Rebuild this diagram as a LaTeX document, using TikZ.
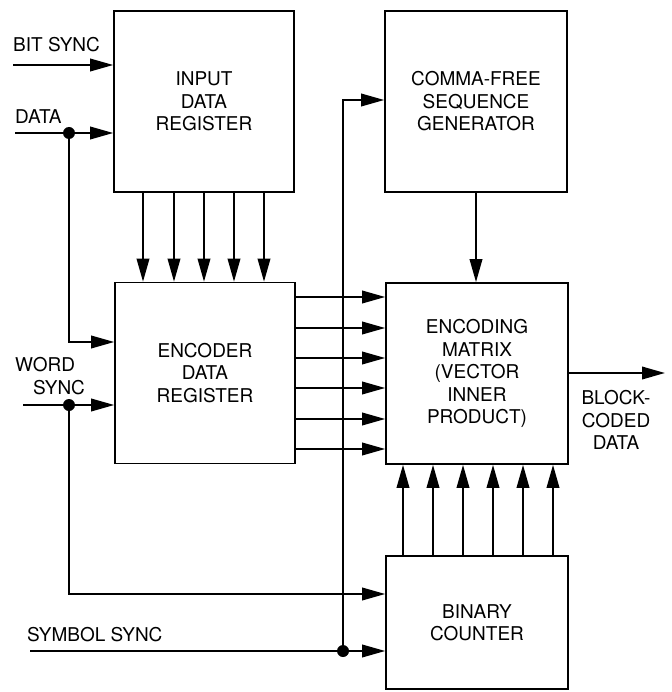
\documentclass[tikz,border=0pt]{standalone}
\usepackage{fontspec}
\setmainfont{TeX Gyre Heros}
\usetikzlibrary{arrows.meta,calc}
\tikzset{
  block/.style={
    draw=black,
    line width=1.6pt,
    minimum width=180pt,
    minimum height=181pt,
    align=center,
    inner sep=0pt,
    font=\fontsize{19}{22.5}\selectfont
  },
  wire/.style={line width=2pt},
  sig/.style={wire, -{Triangle[length=23pt,width=12.5pt]}},
  dot/.style={circle, fill=black, inner sep=0pt, minimum size=12pt},
  lbl/.style={inner sep=0pt, align=left, font=\fontsize{19}{22.5}\selectfont}
}

\begin{document}
\begin{tikzpicture}[x=1pt, y=-1pt]
  \useasboundingbox (0,0) rectangle (671,692);

  % -------------------------------------------------------------------
  % blocks
  % -------------------------------------------------------------------
  \node[block] (inreg) at (204,101.5) {INPUT\\DATA\\REGISTER};
  \node[block, minimum width=182pt] (cfgen) at (476,101.5) {COMMA-FREE\\SEQUENCE\\GENERATOR};
  \node[block] (encreg) at (205,373) {ENCODER\\DATA\\REGISTER};
  \node[block, minimum width=182pt] (encmat) at (477,373.5) {ENCODING\\MATRIX\\(VECTOR\\INNER\\PRODUCT)};
  \node[block, minimum width=182pt, minimum height=133pt] (bincnt) at (477,622.5) {BINARY\\COUNTER};

  % -------------------------------------------------------------------
  % inputs
  % -------------------------------------------------------------------
  \node[lbl, anchor=west] (bitlbl) at (13,45) {BIT SYNC};
  \coordinate (bitin) at (13,65);
  \draw[sig] (bitin) -- (bitin -| inreg.west);

  \node[lbl, anchor=west] (datalbl) at (15,117) {DATA};
  \coordinate (datain) at (15,133);
  \node[dot] (datadot) at (69,133) {};
  \draw[sig] (datain) -- (datain -| inreg.west);
  \draw[sig] (datadot) |- ([yshift=31pt]encreg.west);

  \node[lbl, anchor=west] (wordlbl) at (15,376) {WORD\\\hspace*{18pt}SYNC};
  \coordinate (wordin) at (23,405);
  \node[dot] (worddot) at (69,405) {};
  \draw[sig] (wordin) -- (wordin -| encreg.west);
  \draw[sig] (worddot) |- ([yshift=28.5pt]bincnt.west);

  \node[lbl, anchor=west] (symlbl) at (27,635) {SYMBOL SYNC};
  \coordinate (symin) at (30,651);
  \node[dot] (symdot) at (343,651) {};
  \draw[sig] (symin) -- (symin -| bincnt.west);
  \draw[sig] (symdot) |- ([yshift=1.5pt]cfgen.west);

  % -------------------------------------------------------------------
  % buses
  % -------------------------------------------------------------------
  \foreach \x in {143,174,204,234,264}
    \draw[sig] (\x,0 |- inreg.south) -- (\x,0 |- encreg.north);
  \foreach \y in {297,328,358,388,419,449}
    \draw[sig] (encreg.east |- 0,\y) -- (encmat.west |- 0,\y);
  \foreach \x in {403,433,463,493,523,553}
    \draw[sig] (\x,0 |- bincnt.north) -- (\x,0 |- encmat.south);
  \draw[sig] (cfgen.south) -- (cfgen.south |- encmat.north);

  % -------------------------------------------------------------------
  % output
  % -------------------------------------------------------------------
  \coordinate (outend) at (665,373);
  \draw[sig] (encmat.east |- outend) -- (outend);
  \node[lbl, align=center] (outlbl) at (616,420) {BLOCK-\\CODED\\DATA};

\end{tikzpicture}
\end{document}
